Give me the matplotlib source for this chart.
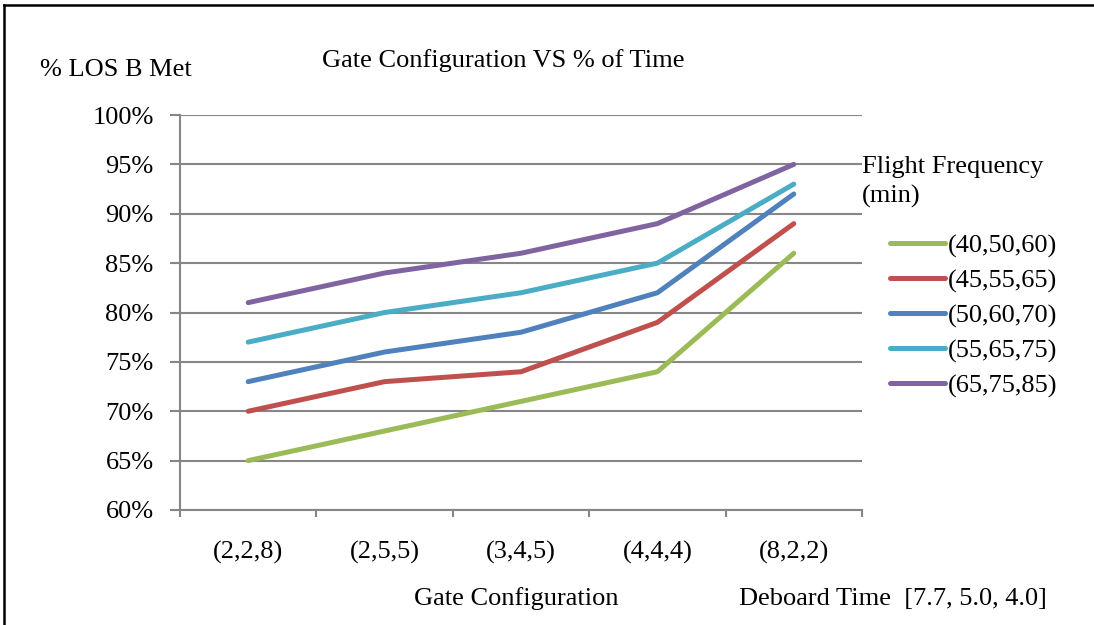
import matplotlib
matplotlib.use("Agg")
import matplotlib.pyplot as plt
from matplotlib.lines import Line2D
from matplotlib.ticker import FixedLocator, PercentFormatter

plt.rcParams['font.family'] = ['Liberation Serif', 'DejaVu Serif']

# Datos
configuraciones = ['(2,2,8)', '(2,5,5)', '(3,4,5)', '(4,4,4)', '(8,2,2)']
frecuencias = ['(40,50,60)', '(45,55,65)', '(50,60,70)', '(55,65,75)', '(65,75,85)']
serie_40 = [65, 68, 71, 74, 86]
serie_45 = [70, 73, 74, 79, 89]
serie_50 = [73, 76, 78, 82, 92]
serie_55 = [77, 80, 82, 85, 93]
serie_65 = [81, 84, 86, 89, 95]
colores = ['#9BBB59', '#C0504D', '#4F81BD', '#4BACC6', '#8064A2']

fs = 19
fig = plt.figure(figsize=(10.94, 6.25), dpi=100)
ax = fig.add_axes([180 / 1094, 1 - 510 / 625, 682 / 1094, 395 / 625])

x = list(range(len(configuraciones)))
for serie, nombre, color in zip([serie_40, serie_45, serie_50, serie_55, serie_65],
                                frecuencias, colores):
    ax.plot(x, serie, color=color, lw=3.6, solid_capstyle='round', label=nombre)

gris = '#868686'
ax.set_xlim(-0.5, len(configuraciones) - 0.5)
ax.set_ylim(60, 100)
ax.set_yticks(range(60, 101, 5))
ax.yaxis.set_major_formatter(PercentFormatter(decimals=0))
ax.grid(axis='y', color=gris, lw=1.5)
ax.set_axisbelow(True)

# marcas del eje x entre categorias, etiquetas en el centro
ax.xaxis.set_major_locator(FixedLocator([i - 0.5 for i in range(len(configuraciones) + 1)]))
ax.xaxis.set_minor_locator(FixedLocator(x))
ax.set_xticklabels([], minor=False)
ax.set_xticklabels(configuraciones, minor=True)
ax.tick_params(axis='x', which='major', length=5, width=1.5, color=gris)
ax.tick_params(axis='x', which='minor', length=0, pad=22, labelsize=fs)
ax.tick_params(axis='y', length=7, width=1.5, color=gris, pad=12, labelsize=fs)

for lado in ['top', 'right']:
    ax.spines[lado].set_visible(False)
for lado in ['left', 'bottom']:
    ax.spines[lado].set_color(gris)
    ax.spines[lado].set_linewidth(1.5)

# textos
fig.text(40 / 1094, 1 - 70 / 625, '% LOS B Met', fontsize=fs, va='center', ha='left')
fig.text(503 / 1094, 1 - 61 / 625, 'Gate Configuration VS % of Time', fontsize=fs,
         va='center', ha='center')
fig.text(516 / 1094, 1 - 599 / 625, 'Gate Configuration', fontsize=fs,
         va='center', ha='center')
fig.text(739 / 1094, 1 - 599 / 625, 'Deboard Time  [7.7, 5.0, 4.0]', fontsize=fs,
         va='center', ha='left')
fig.text(862 / 1094, 1 - 182 / 625, 'Flight Frequency\n(min)', fontsize=fs,
         va='center', ha='left', linespacing=1.4)

fig.legend(loc='upper left', bbox_to_anchor=(890 / 1094, 1 - 234 / 625), frameon=False,
           fontsize=fs, handlelength=2.1, handletextpad=0.1, labelspacing=0.42,
           borderaxespad=0, borderpad=0)

# marco de la figura
fig.add_artist(Line2D([4 / 1094, 4 / 1094], [0, 1 - 5 / 625], color='black', lw=1.8,
                      transform=fig.transFigure))
fig.add_artist(Line2D([4 / 1094, 1093 / 1094], [1 - 5 / 625, 1 - 5 / 625], color='black',
                      lw=1.8, transform=fig.transFigure))

fig.savefig('out.png', dpi=100, facecolor='white')
